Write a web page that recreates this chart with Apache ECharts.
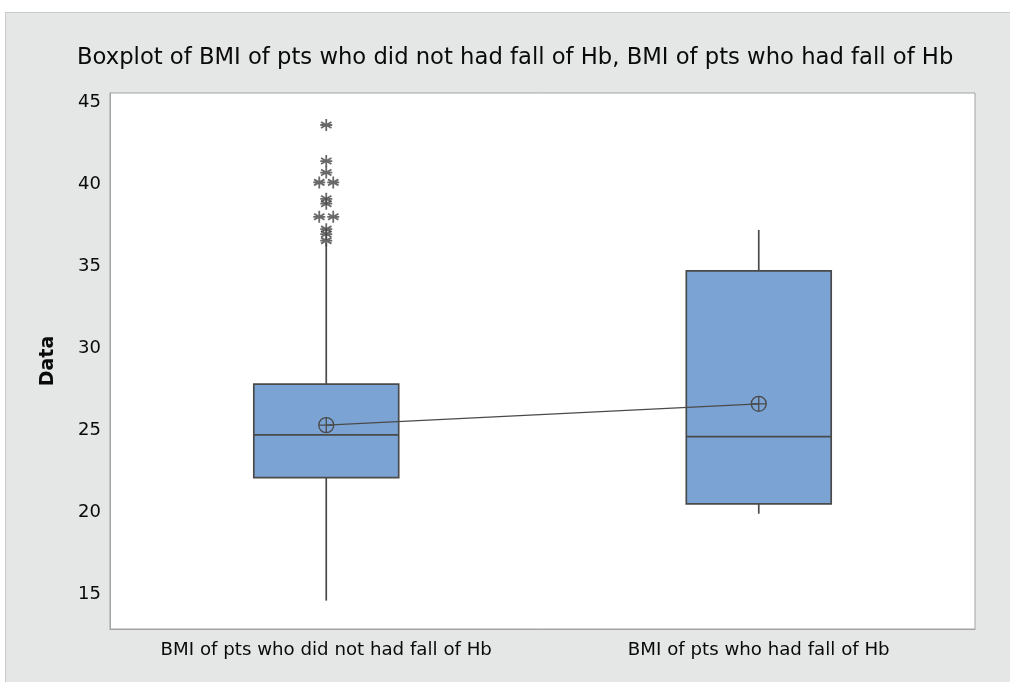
<!DOCTYPE html>
<html>
<head>
<meta charset="utf-8">
<script src="https://cdn.jsdelivr.net/npm/echarts@6/dist/echarts.min.js"></script>
<style>
  html, body { margin: 0; padding: 0; background: #fff; }
  #panel {
    position: absolute; left: 5px; top: 12px; width: 1005px; height: 670px;
    background: #e5e6e6; border-top: 1px solid #c9cbcb; border-left: 1px solid #c9cbcb;
    box-sizing: border-box;
  }
  #chart { width: 1004px; height: 669px; }
</style>
</head>
<body>
<div id="panel"><div id="chart"></div></div>
<script>
const categories = ['BMI of pts who did not had fall of Hb', 'BMI of pts who had fall of Hb'];
const lowWhisker = [14.6, 19.9];
const q1 = [22.1, 20.5];
const median = [24.7, 24.6];
const q3 = [27.8, 34.7];
const highWhisker = [36.4, 37.2];
const means = [25.3, 26.6];
// outliers of the first group only
const outliers = [43.6, 41.4, 40.7, 40.1, 40.1, 39.1, 38.8, 38.0, 38.0, 37.25, 36.95, 36.55];
const yTicks = [15, 20, 25, 30, 35, 40, 45];

const boxColor = '#7ba4d4';
const lineColor = '#4a4a4a';
const textColor = '#0a0a0a';
const font = 'DejaVu Sans';

const boxData = categories.map((c, i) => [i, lowWhisker[i], q1[i], median[i], q3[i], highWhisker[i]]);

// duplicate outliers are drawn side by side, like minitab does
const outlierData = outliers.map((v, i) => {
    const same = outliers.filter(o => o === v).length;
    const k = outliers.slice(0, i).filter(o => o === v).length;
    return { value: [0, v], symbolOffset: [same > 1 ? (k - (same - 1) / 2) * 14 : 0, 0] };
});

function renderBox(params, api) {
    const x = api.value(0);
    const half = api.size([1, 0])[0] * 0.335 / 2;
    const low = api.coord([x, api.value(1)]);
    const bq1 = api.coord([x, api.value(2)]);
    const med = api.coord([x, api.value(3)]);
    const bq3 = api.coord([x, api.value(4)]);
    const high = api.coord([x, api.value(5)]);
    const stroke = { stroke: lineColor, lineWidth: 1.7 };
    return {
        type: 'group',
        children: [
            { type: 'line', shape: { x1: high[0], y1: high[1], x2: bq3[0], y2: bq3[1] }, style: stroke },
            { type: 'line', shape: { x1: bq1[0], y1: bq1[1], x2: low[0], y2: low[1] }, style: stroke },
            { type: 'rect', shape: { x: bq3[0] - half, y: bq3[1], width: half * 2, height: bq1[1] - bq3[1] },
              style: { fill: boxColor, stroke: lineColor, lineWidth: 1.7 } },
            { type: 'line', shape: { x1: med[0] - half, y1: med[1], x2: med[0] + half, y2: med[1] }, style: stroke }
        ]
    };
}

const option = {
    animation: false,
    textStyle: { fontFamily: font },
    title: {
        text: 'Boxplot of BMI of pts who did not had fall of Hb, BMI of pts who had fall of Hb',
        left: 66,
        top: 29,
        textStyle: { fontSize: 22.7, fontWeight: 'normal', color: textColor, fontFamily: font }
    },
    grid: {
        left: 104, right: 35, top: 80, bottom: 53,
        show: true, backgroundColor: '#fff', borderColor: '#a3a3a3', borderWidth: 1
    },
    xAxis: {
        type: 'category',
        data: categories,
        axisLine: { lineStyle: { color: '#a3a3a3' } },
        axisTick: { alignWithLabel: true, interval: 0, length: 5, lineStyle: { color: '#a3a3a3' } },
        axisLabel: { interval: 0, hideOverlap: false, fontSize: 18.2, color: textColor, margin: 12, fontFamily: font }
    },
    yAxis: {
        type: 'value',
        min: 12.87,
        max: 45.55,
        name: 'Data',
        nameLocation: 'middle',
        nameGap: 52,
        nameTextStyle: { fontSize: 19, fontWeight: 'bold', color: textColor, fontFamily: font },
        splitLine: { show: false },
        axisLine: { show: true, lineStyle: { color: '#a3a3a3' } },
        axisTick: { length: 5, customValues: yTicks, lineStyle: { color: '#a3a3a3' } },
        axisLabel: { fontSize: 18, color: textColor, margin: 9, customValues: yTicks, fontFamily: font }
    },
    series: [
        {
            type: 'custom',
            renderItem: renderBox,
            data: boxData,
            encode: { x: 0, y: [1, 2, 3, 4, 5] },
            z: 2
        },
        {
            type: 'line',
            data: means,
            symbol: 'path://M-5,0A5,5 0 1,0 5,0A5,5 0 1,0 -5,0ZM-5,0L5,0M0,-5L0,5',
            symbolSize: 15,
            itemStyle: { color: 'rgba(0,0,0,0)', borderColor: lineColor, borderWidth: 1.3 },
            lineStyle: { color: lineColor, width: 1.3 },
            z: 3
        },
        {
            type: 'scatter',
            data: outlierData,
            symbol: 'path://M0,-5L0,5M-4.33,-2.5L4.33,2.5M-4.33,2.5L4.33,-2.5M-5,0L5,0',
            symbolSize: 12,
            itemStyle: { color: 'rgba(0,0,0,0)', borderColor: '#444', borderWidth: 1.8 },
            z: 3
        }
    ]
};

echarts.init(document.getElementById('chart')).setOption(option);
</script>
</body>
</html>
